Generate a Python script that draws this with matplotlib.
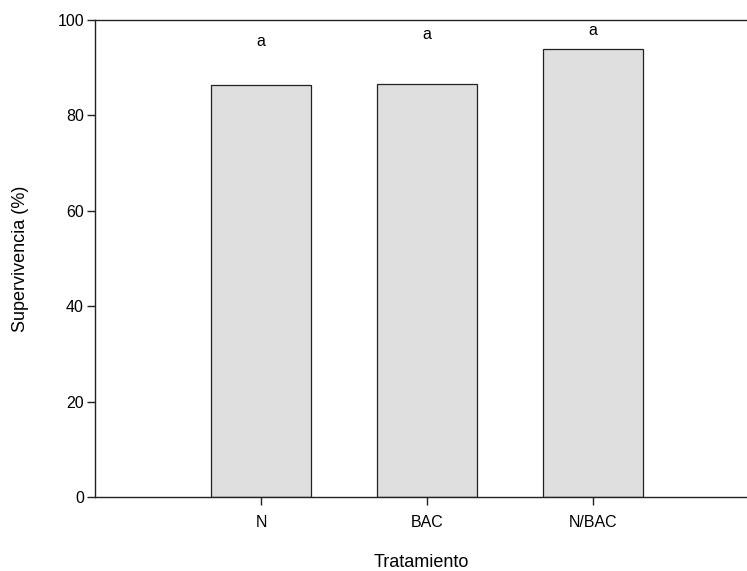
import matplotlib
matplotlib.use("Agg")
import matplotlib.pyplot as plt

# data
tratamientos = ["N", "BAC", "N/BAC"]
supervivencia = [86.4, 86.6, 93.9]
letras = ["a", "a", "a"]
letra_y = [95.4, 96.9, 97.8]

plt.rcParams["font.family"] = ["Liberation Sans", "DejaVu Sans"]

fig = plt.figure(figsize=(7.47, 5.71), dpi=100)
# axes box in pixels: left 95, top 20, bottom 497, runs off the right edge
ax = fig.add_axes([95 / 747, (571 - 497) / 571, (747 - 95) / 747, (497 - 20) / 571])

x = [1, 2, 3]
ax.bar(x, supervivencia, width=0.6, color="#dfdfdf", edgecolor="#222222", linewidth=0.9)

for xi, l, yl in zip(x, letras, letra_y):
    ax.text(xi, yl, l, ha="center", va="center", fontsize=11.5)

ax.set_xlim(0, (747 - 95) / 166)
ax.set_ylim(0, 100)
ax.set_xticks(x)
ax.set_xticklabels(tratamientos)
ax.set_yticks([0, 20, 40, 60, 80, 100])

ax.spines["right"].set_visible(False)
for s in ["left", "bottom", "top"]:
    ax.spines[s].set_linewidth(1.0)
    ax.spines[s].set_color("#222222")

ax.tick_params(axis="both", direction="out", length=6, width=1.0, labelsize=11.5, colors="#222222", labelcolor="black")
ax.tick_params(axis="x", pad=7)
ax.tick_params(axis="y", pad=2)

ax.set_xlabel("Tratamiento", fontsize=13, labelpad=17)
ax.set_ylabel("Supervivencia (%)", fontsize=13, labelpad=20)

fig.savefig("out.png", dpi=100)
